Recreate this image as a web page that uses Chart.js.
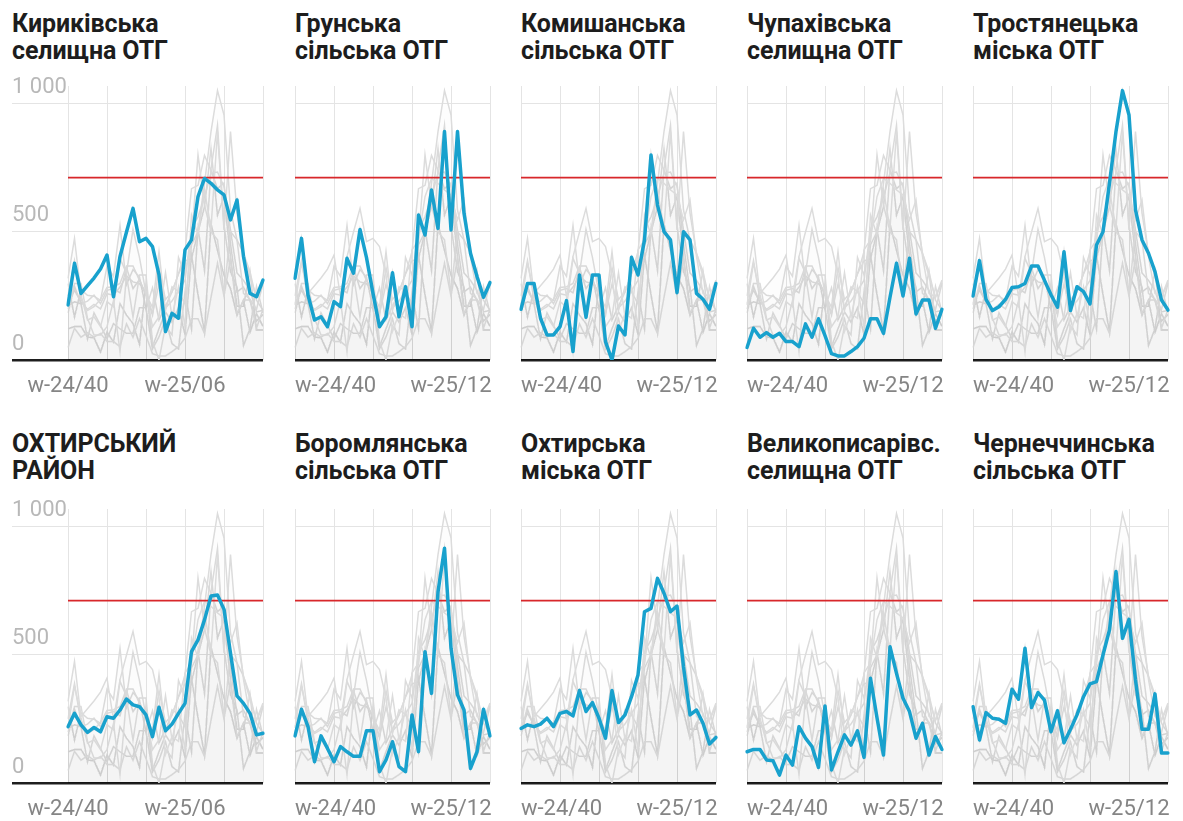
<!DOCTYPE html>
<html><head><meta charset="utf-8">
<script src="https://cdn.jsdelivr.net/npm/chart.js@4"></script>
<style>
body{margin:0;background:#fff;width:1183px;height:821px;position:relative;overflow:hidden;font-family:Roboto,"Noto Sans",sans-serif;}
.title{position:absolute;font-weight:700;font-size:25px;line-height:27px;color:#1d1d1d;white-space:nowrap;letter-spacing:-0.1px}
canvas{position:absolute}
</style></head><body>
<script>
// ---- data ----
const weeks = ['w-24/40','w-24/41','w-24/42','w-24/43','w-24/44','w-24/45','w-24/46','w-24/47','w-24/48','w-24/49','w-24/50','w-24/51','w-24/52',
  'w-25/01','w-25/02','w-25/03','w-25/04','w-25/05','w-25/06','w-25/07','w-25/08','w-25/09','w-25/10','w-25/11','w-25/12',
  'w-25/13','w-25/14','w-25/15','w-25/16','w-25/17','w-25/18'];
const xTickLabelsFirstCol = ['w-24/40','w-25/06'];
const xTickLabelsOtherCols = ['w-24/40','w-25/12'];
const yTicks = [0, 500, 1000];
const yTickLabels = ['0', '500', '1 000'];
const threshold = 712;

const titles = [
  ['Кириківська','селищна ОТГ'],
  ['Грунська','сільська ОТГ'],
  ['Комишанська','сільська ОТГ'],
  ['Чупахівська','селищна ОТГ'],
  ['Тростянецька','міська ОТГ'],
  ['ОХТИРСЬКИЙ','РАЙОН'],
  ['Боромлянська','сільська ОТГ'],
  ['Охтирська','міська ОТГ'],
  ['Великописарівс.','селищна ОТГ'],
  ['Чернеччинська','сільська ОТГ']
];

const kyrykivska = [215,378,260,290,320,355,410,247,404,500,592,462,475,443,332,111,182,163,430,469,638,709,690,664,645,547,625,404,260,247,312];
const hrunska = [319,475,254,156,169,130,228,208,397,339,510,400,260,130,169,341,169,286,130,566,488,664,514,892,508,892,573,417,326,245,302];
const komyshanska = [198,299,299,163,98,98,130,232,33,332,167,332,332,72,0,133,98,401,332,469,801,605,501,469,263,501,469,260,237,198,299];
const chupakhivska = [49,124,89,107,89,104,72,72,52,141,89,161,95,25,16,16,33,52,85,161,161,104,245,378,250,397,180,234,234,124,198];
const trostianetska = [250,388,237,193,208,237,283,286,299,367,367,311,255,206,423,193,286,267,219,449,501,691,892,1052,957,586,469,417,345,234,195];
const okhtyrskyiRaion = [220,272,227,198,217,200,259,253,285,328,305,298,266,181,296,204,230,272,311,513,559,637,730,734,678,507,340,311,272,188,194];
const boromlianska = [184,288,220,83,184,135,83,142,122,104,104,204,204,44,90,161,64,44,266,122,513,350,747,917,526,344,285,57,122,288,184];
const okhtyrska = [213,227,220,230,253,220,272,279,262,361,279,314,253,175,361,236,266,337,422,669,682,799,741,669,691,454,266,285,233,152,178];
const velykopysarivska = [122,131,131,90,87,31,109,70,220,175,142,61,301,51,122,188,148,204,100,409,255,109,532,428,331,279,175,233,109,181,131];
const chernechchynska = [298,168,275,253,249,233,366,327,526,295,353,324,200,282,157,210,266,337,387,396,500,598,826,565,639,402,210,210,348,117,117];

const allSeries = [kyrykivska, hrunska, komyshanska, chupakhivska, trostianetska,
  okhtyrskyiRaion, boromlianska, okhtyrska, velykopysarivska, chernechchynska];

// ---- layout ----
const plotLefts = [68, 295, 521, 747, 973];
const plotW = 195;
const zeroY = [360, 783];
const plotH = 274;
const yMax = 1070;
const padTop = 16, xAxisH = 40, yAxisW = 56, sidePad = 13;

allSeries.forEach((series, i) => {
  const col = i % 5, row = Math.floor(i / 5);
  const first = col === 0;
  const t = document.createElement('div');
  t.className = 'title';
  t.style.left = (first ? 12 : plotLefts[col]) + 'px';
  t.style.top = (row === 0 ? 10 : 430) + 'px';
  t.innerHTML = titles[i][0] + '<br>' + titles[i][1];
  document.body.appendChild(t);

  const cv = document.createElement('canvas');
  const cLeft = plotLefts[col] - (first ? yAxisW : sidePad);
  const cW = (first ? yAxisW : sidePad) + plotW + sidePad;
  const cTop = zeroY[row] - plotH - padTop;
  const cH = padTop + plotH + xAxisH;
  cv.width = cW; cv.height = cH;
  cv.style.left = cLeft + 'px'; cv.style.top = cTop + 'px';
  cv.style.width = cW + 'px'; cv.style.height = cH + 'px';
  document.body.appendChild(cv);

  const shown = first ? xTickLabelsFirstCol : xTickLabelsOtherCols;
  const shownIdx = shown.map(l => weeks.indexOf(l));

  const datasets = [
    { data: series, borderColor: '#18a1cd', borderWidth: 3.5, pointRadius: 0, tension: 0, fill: false, borderJoinStyle: 'round', borderCapStyle: 'round' },
    { data: weeks.map(() => threshold), borderColor: '#d8272b', borderWidth: 1.8, pointRadius: 0, fill: false }
  ];
  allSeries.forEach(s => datasets.push({
    data: s, borderColor: '#dcdcdc', borderWidth: 1.5, pointRadius: 0, tension: 0,
    fill: 'origin', backgroundColor: 'rgba(0,0,0,0.007)'
  }));

  new Chart(cv, {
    type: 'line',
    data: { labels: weeks, datasets },
    options: {
      responsive: false, animation: false, devicePixelRatio: 1,
      layout: { padding: { left: 0, right: sidePad, top: padTop, bottom: 0 } },
      plugins: { legend: { display: false }, tooltip: { enabled: false } },
      scales: {
        x: {
          type: 'category',
          offset: false,
          border: { display: false },
          grid: {
            drawTicks: false,
            color: ctx => (ctx.index % 6 === 0 ? '#e4e4e4' : 'rgba(0,0,0,0)'),
            lineWidth: 1
          },
          ticks: {
            autoSkip: false, maxRotation: 0, minRotation: 0,
            align: first ? 'center' : 'inner',
            padding: 13,
            color: '#858585',
            font: { family: 'Roboto', size: 22 },
            callback: (v, idx) => (shownIdx.includes(idx) ? weeks[idx] : '')
          },
          afterFit: s => { s.height = xAxisH; }
        },
        y: {
          min: 0, max: yMax,
          border: { display: false },
          afterBuildTicks: s => { s.ticks = yTicks.map(v => ({ value: v })); },
          afterFit: s => { s.width = first ? yAxisW : 0; },
          grid: {
            drawTicks: first,
            tickLength: first ? yAxisW : 0,
            color: ctx => (ctx.tick && ctx.tick.value === 0 ? '#1e1e1e' : '#e4e4e4'),
            lineWidth: ctx => (ctx.tick && ctx.tick.value === 0 ? 2.5 : 1)
          },
          ticks: {
            display: first,
            crossAlign: 'far',
            padding: 0,
            labelOffset: -16,
            color: '#b8b8b8',
            font: { family: 'Roboto', size: 22 },
            callback: v => yTickLabels[yTicks.indexOf(v)]
          }
        }
      }
    }
  });
});
</script>
</body></html>
